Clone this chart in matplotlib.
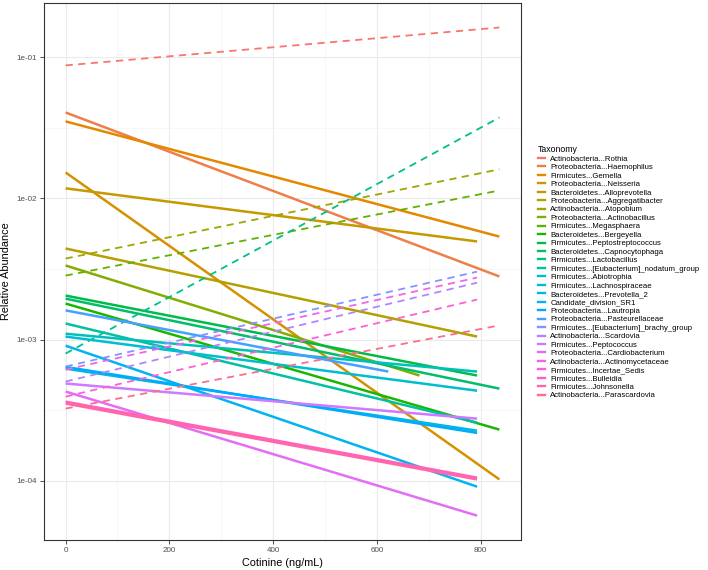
import numpy as np
import matplotlib
matplotlib.use('Agg')
import matplotlib.pyplot as plt
from matplotlib.lines import Line2D
from matplotlib.ticker import FixedLocator, NullFormatter

plt.rcParams['font.family'] = ['Liberation Sans', 'DejaVu Sans']

taxa = [
    'Actinobacteria...Rothia', 'Proteobacteria...Haemophilus', 'Firmicutes...Gemella',
    'Proteobacteria...Neisseria', 'Bacteroidetes...Alloprevotella',
    'Proteobacteria...Aggregatibacter', 'Actinobacteria...Atopobium',
    'Proteobacteria...Actinobacillus', 'Firmicutes...Megasphaera',
    'Bacteroidetes...Bergeyella', 'Firmicutes...Peptostreptococcus',
    'Bacteroidetes...Capnocytophaga', 'Firmicutes...Lactobacillus',
    'Firmicutes...[Eubacterium]_nodatum_group', 'Firmicutes...Abiotrophia',
    'Firmicutes...Lachnospiraceae', 'Bacteroidetes...Prevotella_2',
    'Candidate_division_SR1', 'Proteobacteria...Lautropia',
    'Proteobacteria...Pasteurellaceae', 'Firmicutes...[Eubacterium]_brachy_group',
    'Actinobacteria...Scardovia', 'Firmicutes...Peptococcus',
    'Proteobacteria...Cardiobacterium', 'Actinobacteria...Actinomycetaceae',
    'Firmicutes...Incertae_Sedis', 'Firmicutes...Bulleidia',
    'Firmicutes...Johnsonella', 'Actinobacteria...Parascardovia',
]

# fitted abundance at cotinine = 0 and at the last observed cotinine value
abund_start = [0.0878, 0.0407, 0.0352, 0.0153, 0.0118, 0.00442, 0.00375, 0.00335, 0.00284,
               0.00180, 0.00205, 0.00195, 0.000796, 0.00130, 0.00110, 0.00105, 0.000622,
               0.000905, 0.000640, 0.00161, 0.000644, 0.000504, 0.000488, 0.000428,
               0.000612, 0.000394, 0.000363, 0.000352, 0.000324]
abund_end = [0.163, 0.00280, 0.00537, 0.000102, 0.00496, 0.00105, 0.0161, 0.000556, 0.0114,
             0.000230, 0.000556, 0.000449, 0.0375, 0.000258, 0.000593, 0.000434, 0.000226,
             0.0000906, 0.000218, 0.000593, 0.00303, 0.00253, 0.000275, 0.0000565,
             0.00275, 0.00192, 0.000105, 0.000102, 0.00126]
cot_end = [836, 836, 836, 836, 793, 793, 836, 682, 836, 836, 793, 836, 836, 793, 793, 793, 793,
           793, 793, 622, 793, 793, 793, 793, 793, 793, 793, 793, 836]


def hue_pal(n, l=65.0, c=100.0):
    # ggplot2 default discrete palette (HCL / CIE-Luv)
    hues = np.linspace(15, 375, n + 1)[:-1]
    Xn, Yn, Zn = 95.047, 100.0, 108.883
    un = 4 * Xn / (Xn + 15 * Yn + 3 * Zn)
    vn = 9 * Yn / (Xn + 15 * Yn + 3 * Zn)
    out = []
    for h in hues:
        u = c * np.cos(np.radians(h))
        v = c * np.sin(np.radians(h))
        Y = Yn * ((l + 16) / 116) ** 3
        up = u / (13 * l) + un
        vp = v / (13 * l) + vn
        X = Y * 9 * up / (4 * vp)
        Z = Y * (12 - 3 * up - 20 * vp) / (4 * vp)
        xyz = np.array([X, Y, Z]) / 100
        m = np.array([[3.2404542, -1.5371385, -0.4985314],
                      [-0.9692660, 1.8760108, 0.0415560],
                      [0.0556434, -0.2040259, 1.0572252]])
        rgb = m @ xyz
        rgb = np.where(rgb <= 0.0031308, 12.92 * rgb, 1.055 * np.abs(rgb) ** (1 / 2.4) - 0.055)
        out.append(tuple(np.clip(rgb, 0, 1)))
    return out


cols = hue_pal(len(taxa))

fig = plt.figure(figsize=(7.08, 5.70), dpi=100)
ax = fig.add_axes([0.062, 0.0526, 0.674, 0.942])

for i, name in enumerate(taxa):
    xs = [0, cot_end[i]]
    ys = [abund_start[i], abund_end[i]]
    if abund_end[i] > abund_start[i]:
        ax.plot(xs, ys, color=cols[i], lw=1.3, dashes=(4, 3), solid_capstyle='butt')
    else:
        ax.plot(xs, ys, color=cols[i], lw=1.8, solid_capstyle='butt')

ax.set_yscale('log')
xmax = max(cot_end)
ax.set_xlim(-0.05 * xmax, 1.05 * xmax)
lo = np.log10(min(abund_start + abund_end))
hi = np.log10(max(abund_start + abund_end))
pad = 0.05 * (hi - lo)
ax.set_ylim(10 ** (lo - pad), 10 ** (hi + pad))

ax.set_xticks([0, 200, 400, 600, 800])
ax.set_xticks([100, 300, 500, 700], minor=True)
ax.yaxis.set_major_locator(FixedLocator([1e-4, 1e-3, 1e-2, 1e-1]))
ax.yaxis.set_minor_locator(FixedLocator([10 ** -4.5, 10 ** -3.5, 10 ** -2.5, 10 ** -1.5]))
ax.yaxis.set_minor_formatter(NullFormatter())
ax.set_yticklabels(['1e-04', '1e-03', '1e-02', '1e-01'])

ax.grid(True, which='major', color='#EBEBEB', lw=0.8)
ax.grid(True, which='minor', color='#F4F4F4', lw=0.5)
ax.set_axisbelow(True)
for s in ax.spines.values():
    s.set_color('#333333')
    s.set_linewidth(0.8)
ax.tick_params(which='major', length=3, width=0.6, color='#333333', labelsize=5.8,
               labelcolor='#4D4D4D', pad=2)
ax.tick_params(which='minor', length=0)

ax.set_xlabel('Cotinine (ng/mL)', fontsize=7.8, labelpad=3)
ax.set_ylabel('Relative Abundance', fontsize=7.8, labelpad=4)

handles = [Line2D([0], [0], color=cols[i], lw=1.7) for i in range(len(taxa))]
leg = fig.legend(handles, taxa, loc='upper left', bbox_to_anchor=(0.754, 0.752),
                 frameon=False, fontsize=5.6, title='Taxonomy', title_fontsize=6.3,
                 handlelength=0.9, handletextpad=0.7, labelspacing=0.13, borderpad=0)
leg._legend_box.align = 'left'

fig.savefig('out.png', dpi=100)
